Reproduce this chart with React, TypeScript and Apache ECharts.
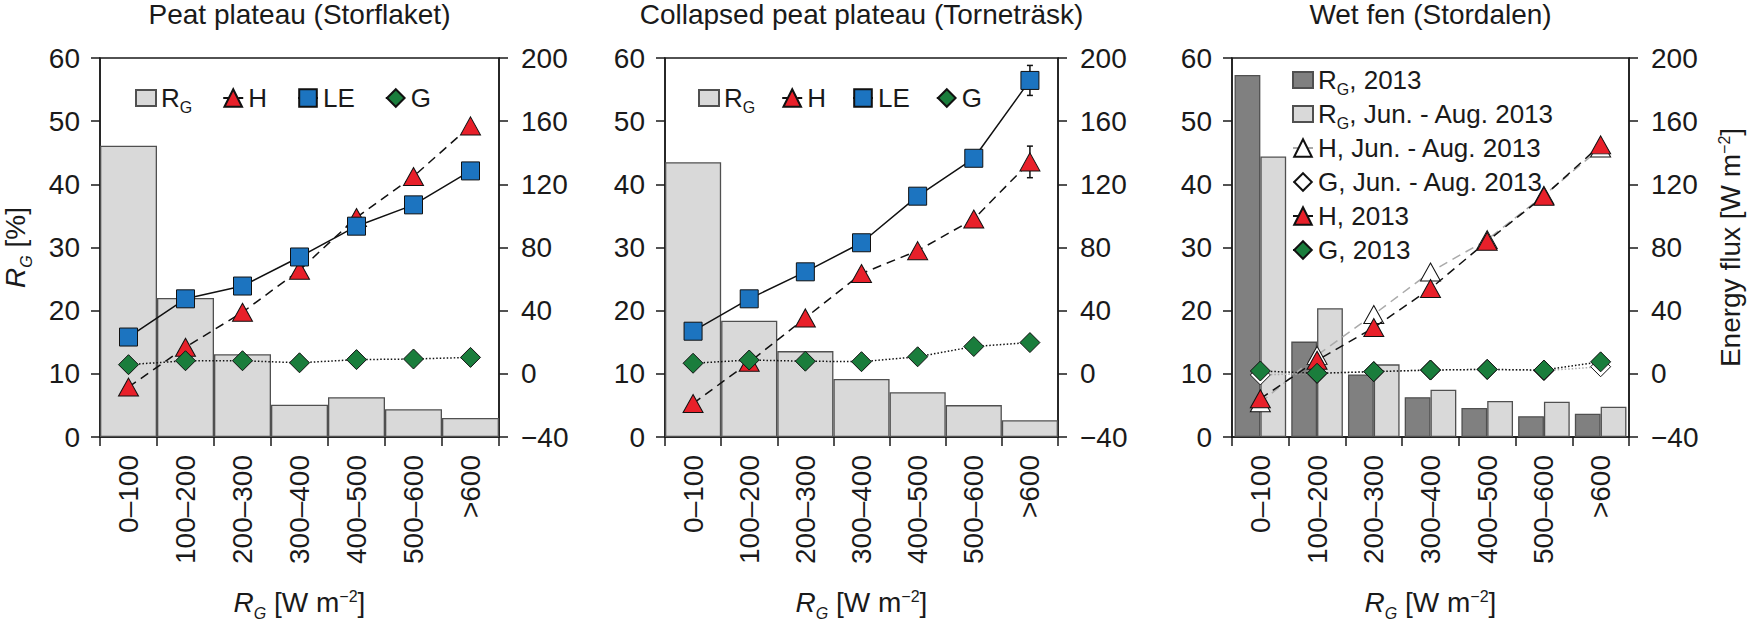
import React, { useEffect, useRef } from 'react';
import * as echarts from 'echarts';

const categories = ['0–100', '100–200', '200–300', '300–400', '400–500', '500–600', '>600'];

// Panel 1: Peat plateau (Storflaket)
const p1RG = [46.1, 22.0, 13.1, 5.1, 6.3, 4.4, 3.0];
const p1H = [-8.4, 16.8, 39, 65.6, 99, 125, 157];
const p1LE = [23.3, 47.5, 55.6, 74, 93.5, 107, 128.5];
const p1G = [5.8, 8.3, 8.3, 7, 9, 9.4, 10.4];

// Panel 2: Collapsed peat plateau (Torneträsk)
const p2RG = [43.5, 18.4, 13.6, 9.2, 7.1, 5.05, 2.65];
const p2H = [-18.8, 7.3, 35.4, 63.5, 78, 98, 134.2];
const p2LE = [27, 47.5, 64.6, 83, 112.5, 136.5, 185.8];
const p2G = [6.7, 8.75, 8, 7.7, 10.8, 17.3, 19.8];
const p2HErr = [null, null, null, null, null, null, 10];
const p2LEErr = [null, null, null, null, null, null, 9.5];

// Panel 3: Wet fen (Stordalen)
const p3RG2013 = [57.3, 15.1, 9.9, 6.3, 4.6, 3.3, 3.7];
const p3RGSummer = [44.4, 20.4, 11.5, 7.5, 5.7, 5.6, 4.8];
const p3HSummer = [-18.3, 11.7, 37.6, 64.5, 85, 113, 143];
const p3GSummer = [-0.7, 0.3, 1.4, 2.4, 2.8, 2.0, 4.5];
const p3H2013 = [-15.8, 8.6, 29.3, 54, 84, 112.5, 145];
const p3G2013 = [1.8, 0.35, 1.4, 2.4, 2.8, 2.4, 7.6];

const leftTicks = { min: 0, max: 60, interval: 10 };
const rightTicks = { min: -40, max: 200, interval: 40 };

const FONT = '"Liberation Sans", Arial, Helvetica, sans-serif';
const INK = '#1a1a1a';
const RED = '#e8202a';
const BLUE = '#1c74c0';
const GREEN = '#1a7d3c';
const LIGHT = '#d9d9d9';
const DARK = '#808080';

const grids = [
  { left: 100, top: 58, width: 399, height: 384 },
  { left: 665, top: 58, width: 393, height: 384 },
  { left: 1232, top: 58, width: 397, height: 384 },
];

const nameRich = {
  i: { fontStyle: 'italic', fontSize: 28, fontFamily: FONT, color: INK, lineHeight: 38, verticalAlign: 'middle' },
  n: { fontSize: 28, fontFamily: FONT, color: INK, lineHeight: 38, verticalAlign: 'middle' },
  s: { fontStyle: 'italic', fontSize: 16, fontFamily: FONT, color: INK, lineHeight: 16, verticalAlign: 'bottom' },
  p: { fontSize: 16, fontFamily: FONT, color: INK, lineHeight: 16, verticalAlign: 'top', padding: [5, 0, 0, 0] },
};

const legendRich = {
  n: { fontSize: 26, fontFamily: FONT, color: INK, lineHeight: 34, verticalAlign: 'middle' },
  s: { fontSize: 16, fontFamily: FONT, color: INK, lineHeight: 16, verticalAlign: 'bottom' },
};

const legendText: Record<string, string> = {
  RG1: '{n|R}{s|G}', H1: '{n|H}', LE1: '{n|LE}', G1: '{n|G}',
  RG2: '{n|R}{s|G}', H2: '{n|H}', LE2: '{n|LE}', G2: '{n|G}',
  RG2013: '{n|R}{s|G}{n|, 2013}',
  RGSummer: '{n|R}{s|G}{n|, Jun. - Aug. 2013}',
  HSummer: '{n|H, Jun. - Aug. 2013}',
  GSummer: '{n|G, Jun. - Aug. 2013}',
  H2013: '{n|H, 2013}',
  G2013: '{n|G, 2013}',
};

const axisLineStyle = { color: INK, width: 1.5 };

function xAxis(i: number) {
  return {
    type: 'category',
    gridIndex: i,
    data: categories,
    boundaryGap: true,
    axisLine: { show: true, lineStyle: axisLineStyle },
    axisTick: { show: true, length: 9, inside: false, lineStyle: axisLineStyle },
    axisLabel: { rotate: 90, fontSize: 28, fontFamily: FONT, color: INK, margin: 18 },
    splitLine: { show: false },
    name: '{i|R}{s|G}{n| [W m}{p|−2}{n|]}',
    nameLocation: 'middle',
    nameGap: 146,
    nameTextStyle: { rich: nameRich },
  };
}

function yLeft(i: number) {
  return {
    type: 'value',
    gridIndex: i,
    position: 'left',
    ...leftTicks,
    axisLine: { show: true, lineStyle: axisLineStyle },
    axisTick: { show: true, length: 9, lineStyle: axisLineStyle },
    axisLabel: { fontSize: 28, fontFamily: FONT, color: INK, margin: 20 },
    splitLine: { show: false },
    ...(i === 0
      ? {
          name: '{i|R}{s|G}{n| [%]}',
          nameLocation: 'middle',
          nameGap: 66,
          nameRotate: 90,
          nameTextStyle: { rich: nameRich },
        }
      : {}),
  };
}

function yRight(i: number) {
  return {
    type: 'value',
    gridIndex: i,
    position: 'right',
    ...rightTicks,
    axisLine: { show: true, lineStyle: axisLineStyle },
    axisTick: { show: true, length: 9, lineStyle: axisLineStyle },
    axisLabel: {
      fontSize: 28,
      fontFamily: FONT,
      color: INK,
      margin: 22,
      formatter: (v: number) => (v < 0 ? '−' + Math.abs(v) : String(v)),
    },
    splitLine: { show: false },
    ...(i === 2
      ? {
          name: '{n|Energy flux [W m}{p|−2}{n|]}',
          nameLocation: 'middle',
          nameGap: 82,
          nameRotate: 90,
          nameTextStyle: { rich: nameRich },
        }
      : {}),
  };
}

function bar(name: string, data: number[], i: number, color: string, extra: any = {}) {
  return {
    name,
    type: 'bar',
    xAxisIndex: i,
    yAxisIndex: 2 * i,
    data,
    itemStyle: { color, borderColor: '#505050', borderWidth: 1.3 },
    z: 1,
    ...extra,
  };
}

function line(
  name: string,
  data: number[],
  i: number,
  symbol: string,
  size: number | number[],
  fill: string,
  lineColor: string,
  lineType: any,
  z = 3
) {
  return {
    name,
    type: 'line',
    xAxisIndex: i,
    yAxisIndex: 2 * i + 1,
    data,
    symbol,
    symbolSize: size,
    showAllSymbol: true,
    itemStyle: { color: fill, borderColor: '#111', borderWidth: 1 },
    lineStyle: { color: lineColor, width: 1.5, type: lineType },
    z,
  };
}

const TRI = [20, 18];
const SQ = 18;
const DIA = 20;
const DASH = [9, 6];
const DOT = [1.5, 2];

function errData(values: number[], err: (number | null)[]) {
  const out: number[][] = [];
  err.forEach((e, idx) => {
    if (e != null) out.push([idx, values[idx] - e, values[idx] + e]);
  });
  return out;
}

function errSeries(data: number[][], i: number) {
  return {
    type: 'custom',
    xAxisIndex: i,
    yAxisIndex: 2 * i + 1,
    z: 2,
    data,
    encode: { x: 0, y: [1, 2] },
    renderItem: (params: any, api: any) => {
      const x = api.value(0);
      const lo = api.coord([x, api.value(1)]);
      const hi = api.coord([x, api.value(2)]);
      const w = 3;
      const style = { stroke: '#111', lineWidth: 1.5 };
      return {
        type: 'group',
        children: [
          { type: 'line', shape: { x1: hi[0], y1: hi[1], x2: lo[0], y2: lo[1] }, style },
          { type: 'line', shape: { x1: hi[0] - w, y1: hi[1], x2: hi[0] + w, y2: hi[1] }, style },
          { type: 'line', shape: { x1: lo[0] - w, y1: lo[1], x2: lo[0] + w, y2: lo[1] }, style },
        ],
      };
    },
  };
}

const barIcon = 'path://M0,0h20v16h-20z';

function legendBase(extra: any) {
  return {
    formatter: (name: string) => legendText[name] || name,
    textStyle: { fontSize: 26, fontFamily: FONT, color: INK, lineHeight: 34, rich: legendRich },
    itemWidth: 20,
    itemHeight: 22,
    selectedMode: false,
    ...extra,
  };
}

const titles = [
  { text: 'Peat plateau (Storflaket)', g: 0 },
  { text: 'Collapsed peat plateau (Torneträsk)', g: 1 },
  { text: 'Wet fen (Stordalen)', g: 2 },
];

const option: any = {
  animation: false,
  backgroundColor: '#ffffff',
  textStyle: { fontFamily: FONT },
  grid: grids.map((g) => ({ ...g, show: true, borderColor: INK, borderWidth: 1.5, backgroundColor: 'transparent', containLabel: false })),
  xAxis: [xAxis(0), xAxis(1), xAxis(2)],
  yAxis: [yLeft(0), yRight(0), yLeft(1), yRight(1), yLeft(2), yRight(2)],
  legend: [
    legendBase({
      left: 130,
      top: 76,
      orient: 'horizontal',
      itemGap: 30,
      data: [{ name: 'RG1', icon: barIcon }, 'H1', 'LE1', 'G1'],
    }),
    legendBase({
      left: 693,
      top: 76,
      orient: 'horizontal',
      itemGap: 26,
      data: [{ name: 'RG2', icon: barIcon }, 'H2', 'LE2', 'G2'],
    }),
    legendBase({
      left: 1287,
      top: 58,
      orient: 'vertical',
      itemGap: 0,
      data: [
        { name: 'RG2013', icon: barIcon },
        { name: 'RGSummer', icon: barIcon },
        'HSummer',
        'GSummer',
        'H2013',
        'G2013',
      ],
    }),
  ],
  graphic: titles.map((t) => ({
    type: 'text',
    x: grids[t.g].left + grids[t.g].width / 2,
    y: 0,
    style: {
      text: t.text,
      fontSize: 28,
      fontFamily: FONT,
      fill: INK,
      align: 'center',
      verticalAlign: 'top',
    },
  })),
  series: [
    bar('RG1', p1RG, 0, LIGHT, { barCategoryGap: '0%' }),
    line('H1', p1H, 0, 'triangle', TRI, RED, '#111', DASH),
    line('LE1', p1LE, 0, 'rect', SQ, BLUE, '#111', 'solid'),
    line('G1', p1G, 0, 'diamond', DIA, GREEN, '#111', DOT),

    bar('RG2', p2RG, 1, LIGHT, { barCategoryGap: '0%' }),
    errSeries(errData(p2H, p2HErr), 1),
    errSeries(errData(p2LE, p2LEErr), 1),
    line('H2', p2H, 1, 'triangle', TRI, RED, '#111', DASH),
    line('LE2', p2LE, 1, 'rect', SQ, BLUE, '#111', 'solid'),
    line('G2', p2G, 1, 'diamond', DIA, GREEN, '#111', DOT),

    bar('RG2013', p3RG2013, 2, DARK, { barGap: '0%', barCategoryGap: '9%' }),
    bar('RGSummer', p3RGSummer, 2, LIGHT, { barGap: '0%', barCategoryGap: '9%' }),
    line('HSummer', p3HSummer, 2, 'triangle', TRI, '#ffffff', '#aaaaaa', DASH, 3),
    line('GSummer', p3GSummer, 2, 'diamond', DIA, '#ffffff', '#aaaaaa', DOT, 3),
    line('H2013', p3H2013, 2, 'triangle', TRI, RED, '#111', DASH, 4),
    line('G2013', p3G2013, 2, 'diamond', DIA, GREEN, '#111', DOT, 4),
  ],
};

export default function App() {
  const ref = useRef<HTMLDivElement>(null);
  useEffect(() => {
    if (!ref.current) return;
    const chart = echarts.init(ref.current, null, { renderer: 'svg' });
    chart.setOption(option);
    return () => chart.dispose();
  }, []);
  return (
    <div
      ref={ref}
      style={{ position: 'fixed', left: 0, top: 0, width: 1757, height: 626, background: '#fff' }}
    />
  );
}
